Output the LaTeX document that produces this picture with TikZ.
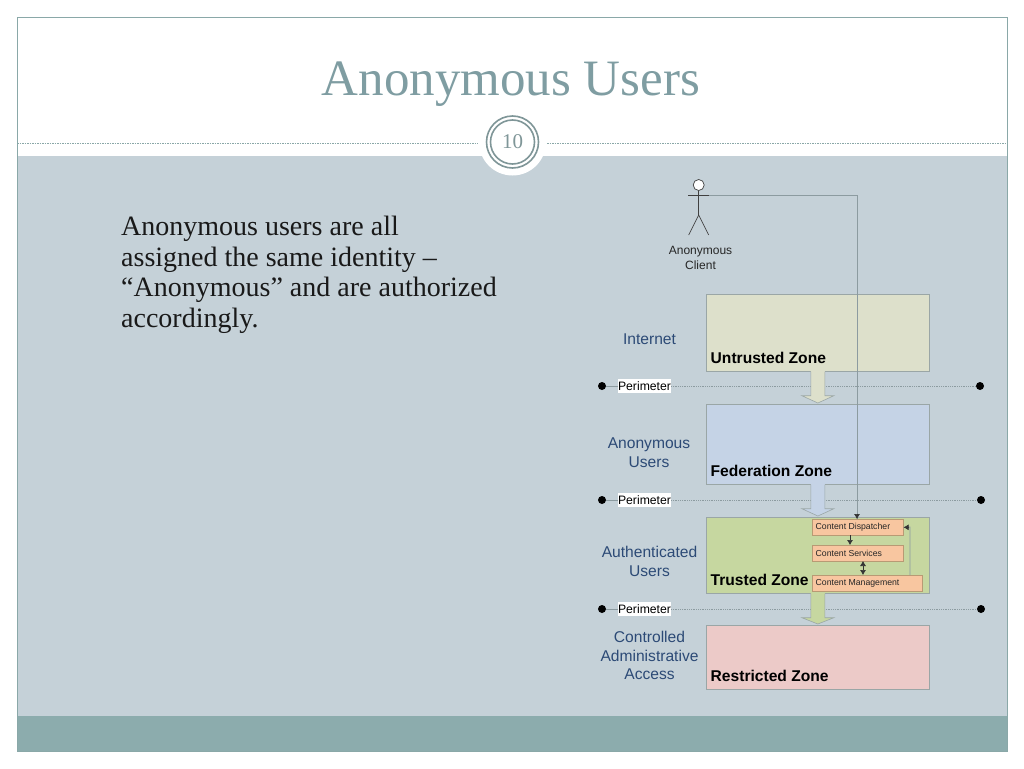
\documentclass[tikz,border=0pt]{standalone}
\usepackage{fontspec}
\setmainfont{Liberation Serif}
\newfontfamily\diag{Liberation Sans}
\usetikzlibrary{calc,arrows.meta}
\definecolor{frameC}{HTML}{8AA8A8}
\definecolor{bodyC}{HTML}{C5D1D8}
\definecolor{footC}{HTML}{8CACAD}
\definecolor{titleC}{HTML}{7F9DA2}
\definecolor{ringC}{HTML}{7F9698}
\definecolor{untC}{HTML}{DDE0CB}
\definecolor{fedC}{HTML}{C5D3E6}
\definecolor{truC}{HTML}{C6D7A0}
\definecolor{resC}{HTML}{ECCAC8}
\definecolor{boxC}{HTML}{F8C6A0}
\definecolor{edgeC}{HTML}{9AA6A6}
\definecolor{blueT}{HTML}{2C4A76}
\definecolor{lineC}{HTML}{8C9BA0}
\tikzset{
  zone/.style={draw=edgeC,line width=.7pt,minimum width=223pt,anchor=north west,inner sep=0pt},
  zonelabel/.style={anchor=base west,inner sep=0pt,font=\diag\bfseries\fontsize{15.6}{17}\selectfont,text=black},
  sidelabel/.style={align=center,inner sep=0pt,text=blueT,font=\diag\fontsize{15.6}{18.8}\selectfont},
  compbox/.style={draw=edgeC!70!orange,line width=.6pt,fill=boxC,anchor=north west,inner sep=0pt,minimum height=16pt},
  complabel/.style={anchor=base west,inner sep=0pt,font=\diag\fontsize{8.7}{10}\selectfont,text=black!85},
  perim/.style={fill=white,inner sep=0pt,minimum width=53pt,minimum height=14pt,font=\diag\fontsize{12.2}{13}\selectfont,text=black},
  dotn/.style={circle,fill=black,inner sep=0pt,minimum size=8pt},
  perimline/.style={draw=lineC,line width=.8pt,densely dotted},
  conn/.style={draw=lineC,line width=.8pt},
  tiny/.style={-{Latex[length=5pt,width=6pt]},draw=black!80,line width=.6pt},
  person/.style={draw=black!75,line width=.7pt},
  rule/.style={draw=frameC,line width=.8pt,dash pattern=on 1.5pt off 1pt}
}
\begin{document}
\begin{tikzpicture}[x=1pt,y=-1pt]
\useasboundingbox (0,0) rectangle (1024,768);
\fill[white] (0,0) rectangle (1024,768);
% slide
\fill[bodyC] (17,156) rectangle (1007,716);
\fill[footC] (17,716) rectangle (1007,751);
\draw[frameC,line width=.8pt] (17,17) rectangle (1007,751);
\draw[rule] (17,143) -- (478,143);
\draw[rule] (547,143) -- (1007,143);
\node[circle,fill=white,minimum size=67pt,inner sep=0pt] (badge) at (512.5,142) {};
\node[circle,draw=ringC,line width=1.6pt,minimum size=52pt,inner sep=0pt] (ringA) at (badge) {};
\node[circle,draw=ringC,line width=1.6pt,minimum size=44pt,inner sep=0pt,text=ringC,font=\fontsize{21}{22}\selectfont] (ringB) at (badge) {10};
\node[inner sep=0pt,text=titleC,font=\fontsize{51}{54}\selectfont,anchor=base] (title) at (511,95) {Anonymous Users};
\node[anchor=north west,inner sep=0pt,align=left,text=black!90,font=\fontsize{28}{30.6}\selectfont] (bodytext) at (121,216)
{Anonymous users are all\\assigned the same identity –\\“Anonymous” and are authorized\\accordingly.};

% perimeter lines (below arrows)
\foreach \nm/\yy/\xe in {a/386/980,b/500/981,c/609/981}{
  \node[dotn] (l\nm) at (602,\yy) {};
  \node[dotn] (r\nm) at (\xe,\yy) {};
  \draw[perimline] (l\nm) -- (r\nm);
  \node[perim] (p\nm) at (644.5,\yy) {Perimeter};
}
\draw[lineC,line width=.8pt] (la) -- (pa.west);
\draw[lineC,line width=.8pt] (lb) -- (pb.west);
\draw[lineC,line width=.8pt] (lc) -- (pc.west);

% zones
\node[zone,fill=untC,minimum height=77pt] (unt) at (706,294) {};
\node[zone,fill=fedC,minimum height=80pt] (fed) at (706,404) {};
\node[zone,fill=truC,minimum height=76pt] (tru) at (706,517) {};
\node[zone,fill=resC,minimum height=64pt] (res) at (706,625) {};

% block arrows
\foreach \src/\dst/\col in {unt/fed/untC,fed/tru/fedC,tru/res/truC}{
  \fill[\col] ($(\src.south)+(-7,-1)$) -- ($(\src.south)+(-7,24)$) -- ($(\src.south)+(-16,24)$)
     -- ($(\dst.north)+(0,-1)$) -- ($(\src.south)+(16,24)$) -- ($(\src.south)+(7,24)$) -- ($(\src.south)+(7,-1)$) -- cycle;
  \draw[edgeC,line width=.6pt] ($(\src.south)+(-7,0)$) -- ($(\src.south)+(-7,24)$) -- ($(\src.south)+(-16,24)$)
     -- ($(\dst.north)+(0,-1)$) -- ($(\src.south)+(16,24)$) -- ($(\src.south)+(7,24)$) -- ($(\src.south)+(7,0)$);
}

\node[zonelabel] (unl) at (710.5,363) {Untrusted Zone};
\node[zonelabel] (fel) at (710.5,476) {Federation Zone};
\node[zonelabel] (trl) at (710.5,585) {Trusted Zone};
\node[zonelabel] (rel) at (710.5,681) {Restricted Zone};

% side labels
\node[sidelabel] (s1) at (649.5,339.5) {Internet};
\node[sidelabel] (s2) at (649,453) {Anonymous\\Users};
\node[sidelabel] (s3) at (649.5,561.5) {Authenticated\\Users};
\node[sidelabel] (s4) at (649.5,655.5) {Controlled\\Administrative\\Access};

% components
\node[compbox,minimum width=91pt] (disp) at (812,519) {};
\node[compbox,minimum width=91pt] (serv) at (812,545) {};
\node[compbox,minimum width=110pt] (mgmt) at (812,575) {};
\node[complabel] (dispt) at (815.5,529.5) {Content Dispatcher};
\node[complabel] (servt) at (815.5,556) {Content Services};
\node[complabel] (mgmtt) at (815.5,585.5) {Content Management};

% actor
\node[circle,draw=black!75,fill=white,line width=.7pt,minimum size=11pt,inner sep=0pt] (head) at (698.7,185) {};
\coordinate (armL) at (688,195);
\coordinate (armR) at (709,195);
\coordinate (hip) at (698.7,215);
\coordinate (footL) at (688.7,235);
\coordinate (footR) at (708.7,235);
\draw[person] (head) -- (hip);
\draw[person] (armL) -- (armR);
\draw[person] (footL) -- (hip) -- (footR);
\node[inner sep=0pt,align=center,text=black!85,font=\diag\fontsize{12}{14.3}\selectfont] (actor) at (700.5,258) {Anonymous\\Client};

% connectors
\coordinate (bend) at (857,195);
\draw[conn] (armR) -- (bend) -- (bend |- disp.north);
\draw[tiny] ($(bend |- disp.north)+(0,-5.5)$) -- (bend |- disp.north);
\coordinate (a1) at (850,535);
\draw[tiny] (a1) -- (a1 |- serv.north);
\coordinate (a2) at (863,561);
\draw[{Latex[length=5pt,width=6pt]}-{Latex[length=5pt,width=6pt]},draw=black!80,line width=.6pt] (a2) -- (a2 |- mgmt.north);
\coordinate (a3) at (910,575);
\draw[draw=lineC,line width=.8pt] (a3) -- (910,527) -- (disp.east);
\draw[tiny] ($(disp.east)+(5.5,0)$) -- (disp.east);
\end{tikzpicture}
\end{document}
